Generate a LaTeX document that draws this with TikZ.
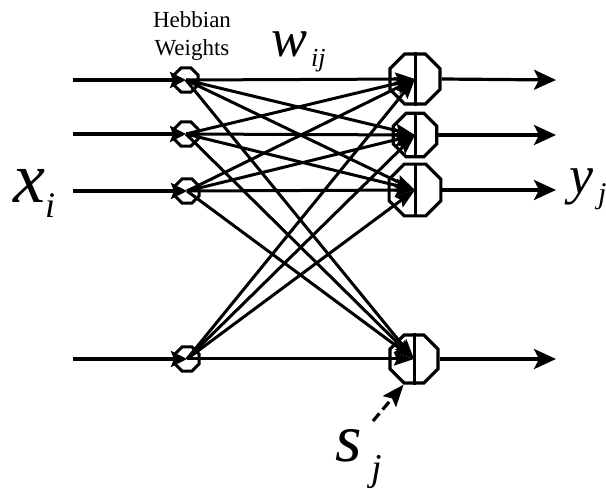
\documentclass[tikz,border=0pt]{standalone}
\usepackage{fontspec}
\setmainfont{Liberation Serif}
\usetikzlibrary{shapes.geometric,arrows.meta}
\begin{document}
\begin{tikzpicture}[x=1pt,y=-1pt,
  conn/.style={line width=3pt,-{Stealth[length=20pt,width=13pt,inset=3pt]}},
  io/.style={line width=3.2pt,-{Stealth[length=22pt,width=20pt,inset=5pt]}},
  inarr/.style={line width=3.2pt,-{Stealth[length=16pt,width=16pt,inset=3pt]}},
  small/.style={regular polygon,regular polygon sides=8,draw,line width=3pt,minimum size=26pt,inner sep=0pt},
  big/.style={regular polygon,regular polygon sides=8,draw,line width=3.2pt,inner sep=0pt},
  lab/.style={anchor=base west,inner sep=0pt},
  vline/.style={line width=3pt}]
\useasboundingbox (0,0) rectangle (606,489);

% small (Hebbian weight) nodes
\node[small] (L1) at (186,80) {};
\node[small] (L2) at (186,134) {};
\node[small] (L3) at (187,191) {};
\node[small] (L4) at (187,359) {};

% output neurons
\node[big,minimum size=54pt] (R1) at (415,79) {};
\node[big,minimum size=47pt] (R2) at (415,135) {};
\node[big,minimum size=56pt] (R3) at (415,190) {};
\node[big,minimum size=52pt] (R4) at (414,359) {};
\foreach \j in {1,...,4} \draw[vline] (R\j.north) -- (R\j.south);

% input and output free ends
\coordinate (in1) at (73,80);
\coordinate (in2) at (73,134);
\coordinate (in3) at (73,191);
\coordinate (in4) at (73,359);
\coordinate (out1) at (556,80);
\coordinate (out2) at (556,135);
\coordinate (out3) at (556,190);
\coordinate (out4) at (556,359);

\foreach \i in {1,...,4} {
  \draw[inarr] (in\i) -- (L\i.center);
  \draw[io] (R\i.east) -- (out\i);
}

% full connections
\foreach \i in {1,...,4}
  \foreach \j in {1,...,4}
    \draw[conn] (L\i.center) -- (R\j.center);

% s_j input
\coordinate (sa) at (373,421);
\draw[line width=3.2pt,dash pattern=on 10pt off 5pt,-{Stealth[length=22pt,width=17pt,inset=4pt]}] (sa) -- (R4.248);

% labels
\node[anchor=base,inner sep=0pt] (hebb) at (192,28) {\fontsize{23}{23}\selectfont Hebbian};
\node[anchor=base,inner sep=0pt] (wts) at (192,56) {\fontsize{23}{23}\selectfont Weights};
\node[lab] (xl) at (13,203) {\fontsize{72}{72}\selectfont\itshape x\raisebox{-15pt}{\fontsize{36}{36}\selectfont i}};
\node[lab] (wl) at (271,57) {\fontsize{54}{54}\selectfont\itshape w\hspace{4pt}\raisebox{-10pt}{\fontsize{26}{26}\selectfont ij}};
\node[lab] (yl) at (569,194) {\fontsize{54}{54}\selectfont\itshape y\hspace{5pt}\raisebox{-10pt}{\fontsize{30}{30}\selectfont j}};
\node[lab] (sl) at (335,462) {\fontsize{68}{68}\selectfont\itshape s\hspace{10pt}\raisebox{-18pt}{\fontsize{38}{38}\selectfont j}};
\end{tikzpicture}
\end{document}
